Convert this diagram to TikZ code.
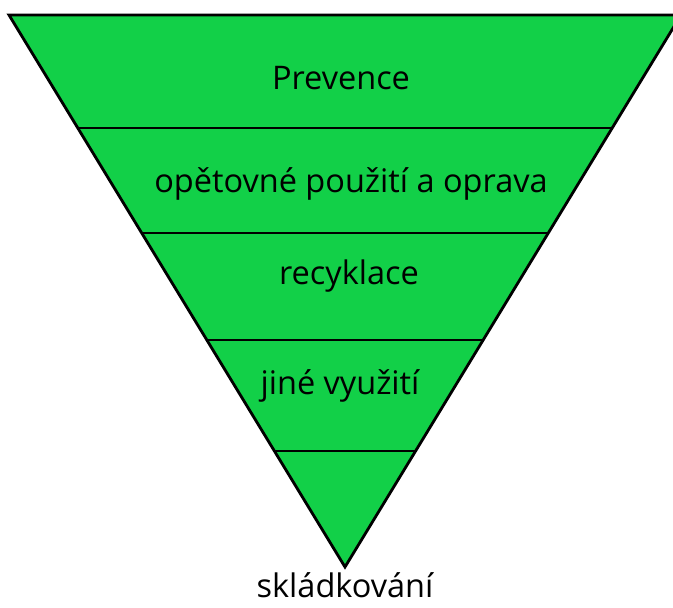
\documentclass[tikz,border=0pt]{standalone}
\usepackage{fontspec}
\setmainfont{Open Sans}
\definecolor{wastegreen}{RGB}{18,208,72}
\tikzset{level/.style={font=\fontsize{18.5}{20}\selectfont, inner sep=0pt}}

\begin{document}
\begin{tikzpicture}[x=0.02cm,y=-0.02cm]

	%Frame of the picture
	\useasboundingbox (0,0) rectangle (673,608);
	\clip (0,0) rectangle (673,608);

	%Drawing the inverted triangle
	\coordinate (tl) at (9,15);
	\coordinate (tr) at (681,15);
	\coordinate (apex) at (345,567);
	\draw [line width=1.6pt, fill=wastegreen, line join=miter] (tl)--(tr)--(apex)--cycle;

	%Dividing lines
	\coordinate (a1) at (79,128);  \coordinate (b1) at (612,128);
	\coordinate (a2) at (143,233); \coordinate (b2) at (548,233);
	\coordinate (a3) at (208,340); \coordinate (b3) at (483,340);
	\coordinate (a4) at (275,451); \coordinate (b4) at (416,451);
	\draw [line width=1.1pt] (a1)--(b1);
	\draw [line width=1.1pt] (a2)--(b2);
	\draw [line width=1.1pt] (a3)--(b3);
	\draw [line width=1.1pt] (a4)--(b4);

	%Labels
	\node [level](prev) at (341,78) {Prevence};
	\node [level](reuse) at (351,184) {opětovné použití a oprava};
	\node [level](recy) at (349,276) {recyklace};
	\node [level](other) at (340,386) {jiné využití};
	\node [level, anchor=base](land) at (345,597) {skládkování};

\end{tikzpicture}
\end{document}
